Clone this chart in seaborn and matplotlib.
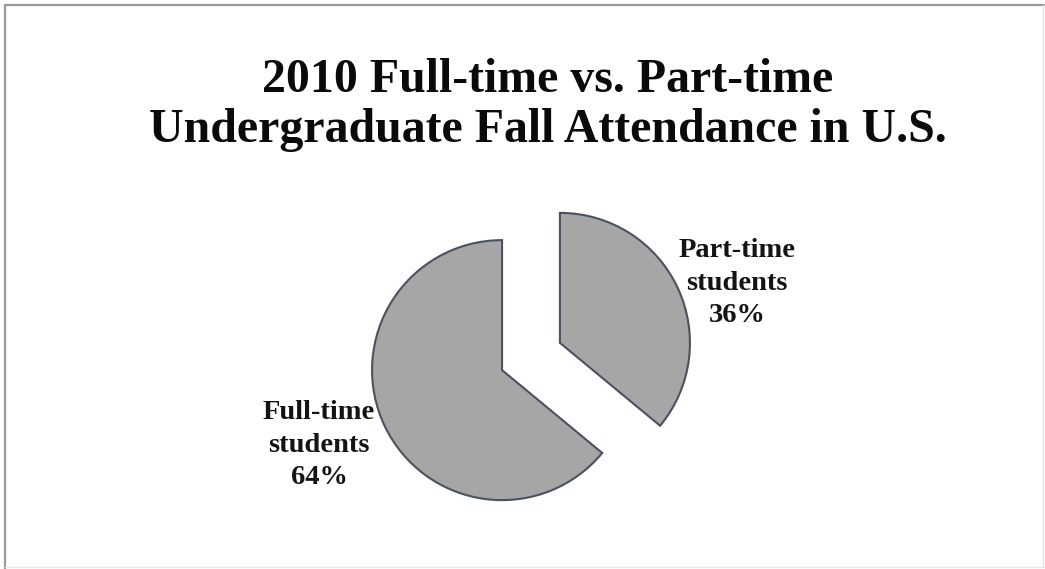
import matplotlib
matplotlib.use("Agg")
import matplotlib.pyplot as plt
import seaborn as sns
from matplotlib.lines import Line2D

# Data
categories = ["Part-time", "Full-time"]
shares = [36, 64]
title_lines = ["2010 Full-time vs. Part-time",
               "Undergraduate Fall Attendance in U.S."]

sns.set_theme(style="white")
plt.rcParams["font.family"] = ["Liberation Serif", "DejaVu Serif"]

W, H = 1045, 569
fig = plt.figure(figsize=(W / 100, H / 100), dpi=100)
fig.patch.set_facecolor("white")
ax = fig.add_axes([0, 0, 1, 1])
ax.set_xlim(0, W)
ax.set_ylim(0, H)
ax.set_aspect("equal")
ax.axis("off")

# Exploded pie, clockwise from twelve o'clock
# (matplotlib applies explode as an absolute offset in data units)
radius = 130
explode_frac = 0.246
fill = "#a6a6a6"
edge = "#4a5260"
ax.pie(
    shares,
    startangle=90,
    counterclock=False,
    radius=radius,
    center=(531, H - 356.5),
    explode=[explode_frac * radius] * len(shares),
    colors=[fill] * len(shares),
    wedgeprops=dict(edgecolor=edge, linewidth=1.5, joinstyle="miter"),
    frame=False,
)
ax.set_xlim(0, W)
ax.set_ylim(0, H)

# Slice labels
label_pos = {"Part-time": (737, H - 283), "Full-time": (319, H - 445)}
for name, val in zip(categories, shares):
    x, y = label_pos[name]
    ax.text(x, y, f"{name}\nstudents\n{val}%", ha="center", va="center",
            fontsize=20.5, fontweight="bold", color="#141414", linespacing=1.38)

# Title
for line, base in zip(title_lines, [92, 142]):
    ax.text(548, H - base, line, ha="center", va="baseline",
            fontsize=34.5, fontweight="bold", color="#0a0a0a")

# Frame around the chart area
ax.add_line(Line2D([5, 5], [0, H - 5], color="#9a9a9a", lw=1.6))
ax.add_line(Line2D([5, W], [H - 5, H - 5], color="#9a9a9a", lw=1.6))
ax.add_line(Line2D([W - 2, W - 2], [2, H - 5], color="#e6e6e6", lw=1.0))
ax.add_line(Line2D([5, W - 2], [2, 2], color="#e6e6e6", lw=1.0))

fig.savefig("out.png", dpi=100, facecolor="white")
